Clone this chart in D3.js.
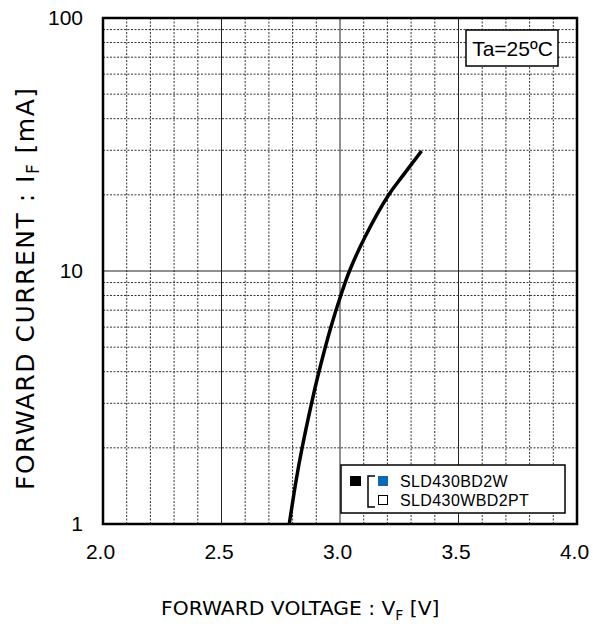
<!DOCTYPE html>
<html><head><meta charset="utf-8">
<script src="https://cdn.jsdelivr.net/npm/d3@7"></script>
<style>body{margin:0;background:#fff;} svg{display:block;}</style>
</head><body>
<script>
const voltage = [2.786, 2.815, 2.841, 2.883, 2.913, 2.962, 3.004, 3.040, 3.106, 3.205, 3.262, 3.344];
const current = [1.0, 1.49, 2.02, 3.09, 4.06, 6.02, 8.04, 10.0, 13.66, 19.97, 23.6, 29.8];
const xTicks = [2.0, 2.5, 3.0, 3.5, 4.0];
const yTicks = [1, 10, 100];
const legendLabels = ["SLD430BD2W", "SLD430WBD2PT"];
const condition = "Ta=25ºC";

const W = 593, H = 626;
const m = {l:103, t:18, r:577, b:524};
const svg = d3.select("body").append("svg").attr("width", W).attr("height", H);
const x = d3.scaleLinear().domain([2, 4]).range([m.l, m.r]);
const y = d3.scaleLog().domain([1, 100]).range([m.b, m.t]);

// grid
const g = svg.append("g");
const vLines = d3.range(21).map(i => +(2 + i*0.1).toFixed(1));
vLines.forEach(v => {
  const isMajor = Math.round(v*10) % 5 === 0;
  g.append("line").attr("x1", x(v)).attr("x2", x(v)).attr("y1", m.t).attr("y2", m.b)
    .attr("stroke", isMajor ? "#222" : "#333").attr("stroke-width", 1)
    .attr("stroke-dasharray", isMajor ? null : "2,1.5");
});
const hLines = [];
[1, 10].forEach(d => { for (let k=1;k<=9;k++) hLines.push(d*k); });
hLines.push(100);
hLines.forEach(v => {
  const isMajor = (v === 1 || v === 10 || v === 100);
  g.append("line").attr("x1", m.l).attr("x2", m.r).attr("y1", y(v)).attr("y2", y(v))
    .attr("stroke", isMajor ? "#222" : "#333").attr("stroke-width", 1)
    .attr("stroke-dasharray", isMajor ? null : "2,1.5");
});

// curve
const pts = voltage.map((v,i) => [v, current[i]]);
svg.append("path").datum(pts)
  .attr("d", d3.line().x(d => x(d[0])).y(d => y(d[1])).curve(d3.curveCatmullRom))
  .attr("fill", "none").attr("stroke", "#000").attr("stroke-width", 3.5);

// frame
svg.append("rect").attr("x", m.l).attr("y", m.t).attr("width", m.r-m.l).attr("height", m.b-m.t)
  .attr("fill", "none").attr("stroke", "#000").attr("stroke-width", 2.5);

// axes tick labels
const FONT = "Liberation Sans, Arial, sans-serif";
const xAxis = d3.axisBottom(x).tickValues(xTicks).tickFormat(d3.format(".1f")).tickSize(0).tickPadding(20);
const xa = svg.append("g").attr("transform", `translate(-3,${m.b})`).call(xAxis);
xa.select(".domain").remove();
xa.selectAll("text").attr("font-family", FONT).attr("font-size", 21).attr("fill", "#000");
const yAxis = d3.axisLeft(y).tickValues(yTicks).tickFormat(d3.format("d")).tickSize(0).tickPadding(20);
const ya = svg.append("g").attr("transform", `translate(${m.l},0)`).call(yAxis);
ya.select(".domain").remove();
ya.selectAll("text").attr("font-family", FONT).attr("font-size", 21).attr("fill", "#000");

// axis titles
const TFONT = "DejaVu Sans, Verdana, sans-serif";
const xt = svg.append("text").attr("x", 161).attr("y", 615)
  .attr("font-family", TFONT).attr("font-size", 20.3).attr("fill", "#000");
xt.append("tspan").text("FORWARD VOLTAGE : V");
xt.append("tspan").attr("font-size", 14).attr("dy", 5).text("F");
xt.append("tspan").attr("dy", -5).text(" [V]");

const yt = svg.append("text").attr("transform", "translate(34,490) rotate(-90)")
  .attr("font-family", TFONT).attr("font-size", 25).attr("letter-spacing", 1.5).attr("fill", "#000");
yt.append("tspan").text("FORWARD CURRENT : I");
yt.append("tspan").attr("font-size", 17).attr("dy", 5).text("F");
yt.append("tspan").attr("dy", -5).text(" [mA]");

// condition box
svg.append("rect").attr("x", 466).attr("y", 30).attr("width", 92).attr("height", 36)
  .attr("fill", "#fff").attr("stroke", "#000").attr("stroke-width", 1.5);
svg.append("text").attr("x", 512.5).attr("y", 55.5).attr("text-anchor", "middle")
  .attr("font-family", FONT).attr("font-size", 21).text(condition);

// legend
svg.append("rect").attr("x", 341).attr("y", 465).attr("width", 224).attr("height", 48)
  .attr("fill", "#fff").attr("stroke", "#000").attr("stroke-width", 1.5);
svg.append("rect").attr("x", 350).attr("y", 476).attr("width", 11).attr("height", 10).attr("fill", "#000");
svg.append("path").attr("d", "M375,476 H368 V507 H375").attr("fill", "none").attr("stroke", "#000").attr("stroke-width", 1.5);
svg.append("rect").attr("x", 378).attr("y", 476).attr("width", 10).attr("height", 10).attr("fill", "#0a68b5");
svg.append("rect").attr("x", 378.5).attr("y", 495.5).attr("width", 9).attr("height", 9).attr("fill", "#fff").attr("stroke", "#000").attr("stroke-width", 1);
legendLabels.forEach((t,i) => {
  svg.append("text").attr("x", 400).attr("y", 486.5 + i*19)
    .attr("font-family", FONT).attr("font-size", 16).attr("letter-spacing", 0.4).text(t);
});
</script>
</body></html>
